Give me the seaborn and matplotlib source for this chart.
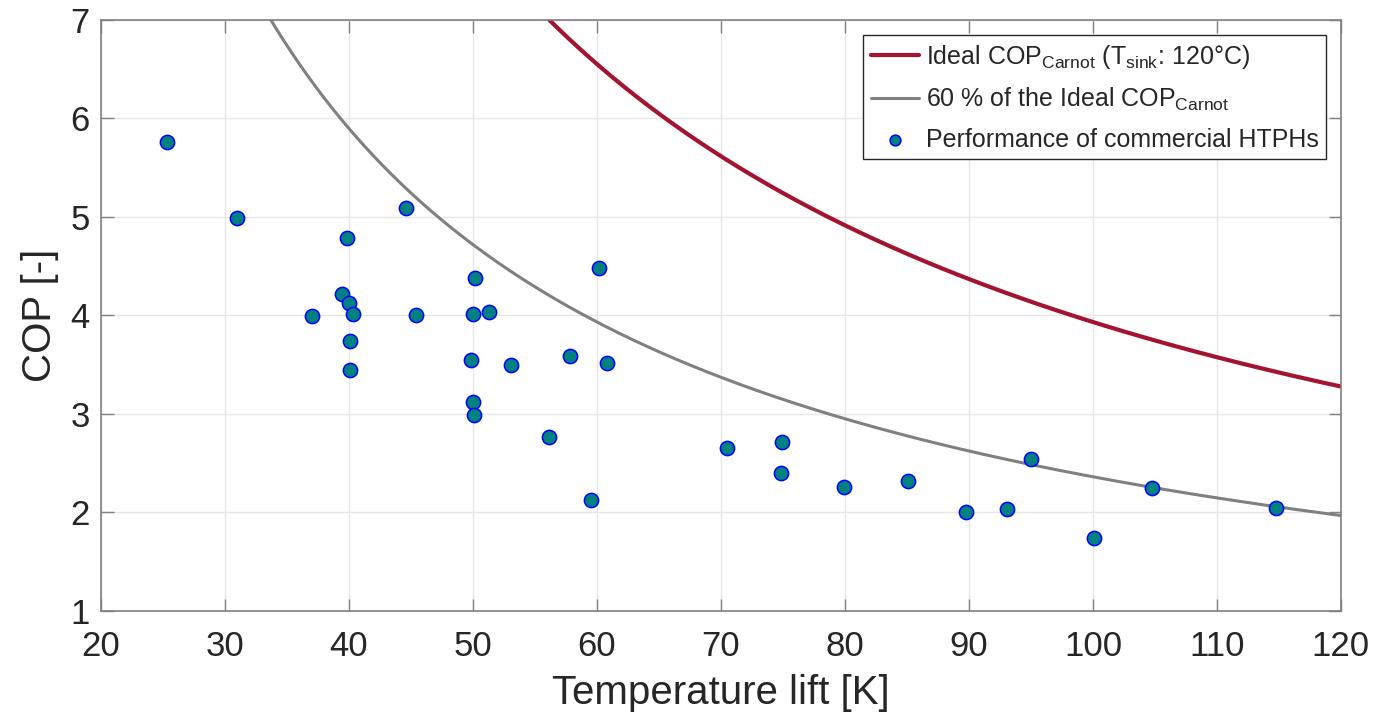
import numpy as np
import pandas as pd
import matplotlib
matplotlib.use("Agg")
import matplotlib.pyplot as plt
import seaborn as sns

# ---- data ----
lift_k = [25.3, 31.0, 37.0, 39.4, 39.8, 40.0, 40.3, 40.1, 40.1, 44.6, 45.4,
          50.2, 50.0, 51.3, 49.8, 53.1, 50.0, 50.1, 56.1, 57.8, 59.5, 60.2,
          60.8, 70.5, 74.9, 74.8, 79.9, 85.1, 89.8, 93.1, 95.0, 100.1, 104.8,
          114.8]
cop = [5.76, 4.99, 3.99, 4.22, 4.79, 4.12, 4.01, 3.74, 3.44, 5.09, 4.00,
       4.38, 4.01, 4.03, 3.55, 3.50, 3.12, 2.99, 2.76, 3.59, 2.12, 4.48,
       3.52, 2.65, 2.71, 2.40, 2.26, 2.32, 2.00, 2.03, 2.54, 1.74, 2.25,
       2.04]
t_sink_c = 120.0          # sink temperature of the ideal curve [°C]
carnot_share = 0.60       # 60 % of the ideal COP
x_ticks = [20, 30, 40, 50, 60, 70, 80, 90, 100, 110, 120]
y_ticks = [1, 2, 3, 4, 5, 6, 7]

# ideal Carnot COP of a heat pump: COP = T_sink / (T_sink - T_source)
t_sink_k = t_sink_c + 273.15
lift_grid = np.linspace(20, 120, 600)
curve = pd.DataFrame({"lift": lift_grid,
                      "ideal": t_sink_k / lift_grid})
curve["share"] = carnot_share * curve["ideal"]
pts = pd.DataFrame({"lift": lift_k, "cop": cop})

sns.set_style("whitegrid")
plt.rcParams["font.family"] = ["Liberation Sans", "DejaVu Sans"]
plt.rcParams["mathtext.default"] = "regular"

fig = plt.figure(figsize=(13.9, 7.17), dpi=100)
ax = fig.add_axes([0.0727, 0.1485, 0.892, 0.8235])

sns.lineplot(data=curve, x="lift", y="ideal", ax=ax, color="#A2142F",
             linewidth=3.0,
             label=r"Ideal COP$_{Carnot}$ (T$_{sink}$: 120°C)")
sns.lineplot(data=curve, x="lift", y="share", ax=ax, color="#808080",
             linewidth=2.2, label=r"60 % of the Ideal COP$_{Carnot}$")
sns.scatterplot(data=pts, x="lift", y="cop", ax=ax, s=105,
                color="#008080", edgecolor="#0000FF", linewidth=1.1,
                zorder=5, label="Performance of commercial HTPHs")

ax.set_xlim(20, 120)
ax.set_ylim(1, 7)
ax.set_xticks(x_ticks)
ax.set_yticks(y_ticks)
ax.grid(True, color="#e6e6e6", linewidth=1.0)
for s in ax.spines.values():
    s.set_visible(True)
    s.set_color("#808080")
    s.set_linewidth(1.2)
ax.tick_params(axis="both", direction="in", length=9, width=1.0,
               color="#808080", labelsize=25, labelcolor="#262626",
               top=True, right=True, left=True, bottom=True)
ax.tick_params(axis="x", pad=14)
ax.tick_params(axis="y", pad=8)
ax.set_xlabel("Temperature lift [K]", fontsize=29, color="#262626",
              labelpad=8)
ax.set_ylabel("COP [-]", fontsize=29, color="#262626", labelpad=8)

leg = ax.legend(loc="upper right", fontsize=18, frameon=True,
                fancybox=False, edgecolor="#262626", framealpha=1,
                handlelength=1.95, handletextpad=0.25, borderpad=0.3,
                labelspacing=0.6, borderaxespad=0.6)
leg.get_frame().set_linewidth(1.0)
for h in leg.legend_handles:
    if hasattr(h, "set_sizes"):
        h.set_sizes([60])

fig.savefig("out.png", dpi=100)
